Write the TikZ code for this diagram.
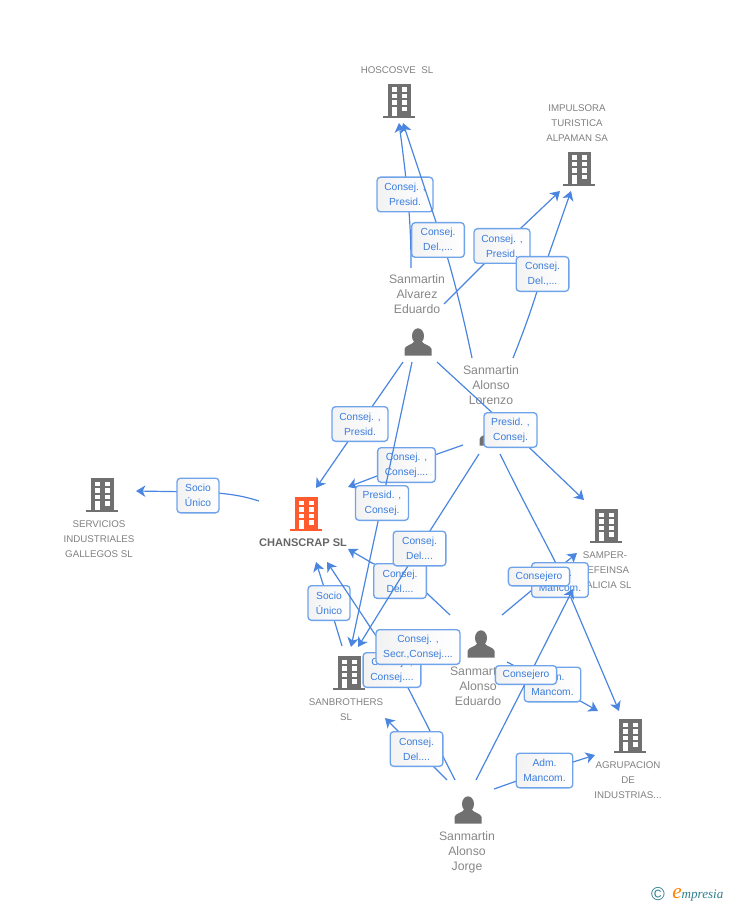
\documentclass[tikz,border=0pt]{standalone}
\usepackage{fontspec}
\setmainfont{Liberation Sans}
\newfontfamily\logofont{Liberation Serif}
\usetikzlibrary{arrows.meta}
\definecolor{linkblue}{HTML}{4A86E0}
\definecolor{boxblue}{HTML}{6FA3EA}
\definecolor{textblue}{HTML}{3B7DDD}
\definecolor{icongrey}{HTML}{707070}
\definecolor{maincolor}{HTML}{FF5B2E}
\definecolor{logoteal}{HTML}{2F7F8F}
\tikzset{
	link/.style={draw=linkblue, line width=0.9pt},
	tip/.style={link, -{Stealth[length=7pt,width=8.5pt,inset=2pt]}},
	rolebox/.style={draw=boxblue, line width=1pt, rounded corners=2.6pt, left color=black!5, right color=white, text=textblue, align=center, font=\fontsize{7.7}{11.25}\selectfont, inner xsep=5.4pt, inner ysep=0pt, minimum height=26pt, minimum width=39.5pt},
	socio/.style={rolebox, minimum width=31.5pt},
	roleline/.style={rolebox, minimum height=14pt},
	company/.style={text=black!50, align=center, font=\fontsize{7.3}{11.25}\selectfont, inner sep=0pt},
	person/.style={text=black!47, align=center, font=\fontsize{9.2}{11.25}\selectfont, inner sep=0pt},
}
\def\companyicon(#1,#2)#3{
	\fill[#3] (#1-16,#2+15) rectangle (#1+16,#2+17);
	\fill[#3] (#1-11.5,#2-17) rectangle (#1+11.5,#2+15);
	\foreach \r in {-13.5,-7,-0.5}{
		\fill[white] (#1-7.5,#2+\r) rectangle +(5,4.5);
		\fill[white] (#1+2.5,#2+\r) rectangle +(5,4.5);
	}
	\fill[white] (#1-7.5,#2+6) rectangle (#1-2.5,#2+15);
	\fill[white] (#1+2.5,#2+6) rectangle (#1+7.5,#2+10.5);
}
\def\personicon(#1,#2){
	\fill[icongrey] (#1,#2-6) ellipse (6 and 7.7);
	\fill[icongrey] (#1-13.5,#2+13.5) -- (#1-13.5,#2+7) .. controls (#1-13,#2+3) and (#1-5,#2+3) .. (#1-3.5,#2-1) -- (#1+3.5,#2-1) .. controls (#1+5,#2+3) and (#1+13,#2+3) .. (#1+13.5,#2+7) -- (#1+13.5,#2+13.5) -- cycle;
}
\begin{document}
\begin{tikzpicture}[x=0.75pt,y=-0.75pt]
	\useasboundingbox (0,0) rectangle (728,905);

	% companies
	\companyicon(399,101){icongrey}
	\companyicon(579,169){icongrey}
	\companyicon(102,495){icongrey}
	\companyicon(306,514){maincolor}
	\companyicon(606,526){icongrey}
	\companyicon(349,673){icongrey}
	\companyicon(630,736){icongrey}
	\node[company] (hoscosve) at (397,70) {HOSCOSVE\ \ SL};
	\node[company] (impulsora) at (577,123) {IMPULSORA\\TURISTICA\\ALPAMAN SA};
	\node[company] (servicios) at (99,539) {SERVICIOS\\INDUSTRIALES\\GALLEGOS SL};
	\node[company, text=black!60, font=\fontsize{8.3}{11.25}\selectfont\bfseries] (chanscrap) at (303,543) {CHANSCRAP SL};
	\node[company] (samper) at (605,570) {SAMPER-\\SEFEINSA\\GALICIA SL};
	\node[company] (sanbrothers) at (346,709.5) {SANBROTHERS\\SL};
	\node[company] (agrupacion) at (628,780) {AGRUPACION\\DE\\INDUSTRIAS...};

	% people
	\personicon(418,342)
	\personicon(493,432)
	\personicon(481,644)
	\personicon(468,810)
	\node[person] (alvarez) at (417,294) {Sanmartin\\Alvarez\\Eduardo};
	\node[person] (lorenzo) at (491,385) {Sanmartin\\Alonso\\Lorenzo};
	\node[person] (eduardo) at (478,686) {Sanmartin\\Alonso\\Eduardo};
	\node[person] (jorge) at (467,852) {Sanmartin\\Alonso\\Jorge};

	% free ends
	\coordinate (hosA) at (399,123);
	\coordinate (hosB) at (403,123);
	\coordinate (impA) at (560,191);
	\coordinate (impB) at (571,191);
	\coordinate (chaA) at (316,488);
	\coordinate (chaB) at (348,487);
	\coordinate (chaC) at (348,549);
	\coordinate (chaD) at (327,562);
	\coordinate (chaE) at (316,562);
	\coordinate (serA) at (136,491);
	\coordinate (sanA) at (351,647);
	\coordinate (sanB) at (358,647);
	\coordinate (sanC) at (385,718);
	\coordinate (samA) at (584,500);
	\coordinate (samB) at (577,553);
	\coordinate (samC) at (573,589);
	\coordinate (agrA) at (619,711);
	\coordinate (agrB) at (598,711);
	\coordinate (agrC) at (595,755);
	\coordinate (fromAlvA) at (411,268);
	\coordinate (fromAlvB) at (444,304);
	\coordinate (fromAlvC) at (403,362);
	\coordinate (fromAlvD) at (412,362);
	\coordinate (fromAlvE) at (437,362);
	\coordinate (fromLorA) at (472,358);
	\coordinate (fromLorB) at (513,358);
	\coordinate (fromLorC) at (463,445);
	\coordinate (fromLorD) at (479,454);
	\coordinate (fromLorE) at (500,454);
	\coordinate (fromEduA) at (450,615);
	\coordinate (fromEduB) at (502,615);
	\coordinate (fromEduC) at (507,662);
	\coordinate (fromJorA) at (447,780);
	\coordinate (fromJorB) at (455,780);
	\coordinate (fromJorC) at (476,780);
	\coordinate (fromJorD) at (494,789);
	\coordinate (fromChaA) at (259,501);
	\coordinate (fromSanA) at (342,646);
	\coordinate (underSanC) at (400,672);
	\coordinate (underChaD) at (390,657);

	% links with their boxes
	\draw[tip] (fromChaA) .. controls (240,495) and (225,493) .. (198,492) -- (serA);
	\node[socio] (roleSocioA) at (198,495.5) {Socio\\Único};

	\draw[tip] (fromAlvA) .. controls (411,235) and (410,205) .. (hosA);
	\node[rolebox] (roleHosA) at (405,194.5) {Consej. ,\\Presid.};
	\draw[tip] (fromLorA) .. controls (462,310) and (450,262) .. (438,228) -- (hosB);
	\node[rolebox] (roleHosB) at (438,240) {Consej.\\Del.,...};

	\draw[tip] (fromAlvB) -- (502,246) -- (impA);
	\node[rolebox] (roleImpA) at (502,246) {Consej. ,\\Presid.};
	\draw[tip] (fromLorB) .. controls (525,328) and (535,300) .. (542,274) -- (impB);
	\node[rolebox] (roleImpB) at (542.5,274) {Consej.\\Del.,...};

	\draw[tip] (fromAlvC) -- (360,424) -- (chaA);
	\node[rolebox] (roleChaA) at (360,424) {Consej. ,\\Presid.};
	\draw[tip] (fromLorC) -- (406,465) -- (chaB);
	\node[rolebox] (roleChaB) at (406.5,465) {Consej. ,\\Consej....};
	\draw[tip] (fromAlvD) -- (382,503) -- (sanA);
	\node[rolebox] (roleSanA) at (382,503) {Presid. ,\\Consej.};

	\draw[tip] (fromAlvE) -- (511,430) -- (samA);
	\node[rolebox] (roleSamA) at (510.5,430) {Presid. ,\\Consej.};

	\draw[tip] (fromEduA) -- (415,582) -- (372,563) -- (chaC);
	\node[rolebox] (roleChaC) at (400,581) {Consej.\\Del....};
	\draw[tip] (fromLorD) -- (419,548) -- (sanB);
	\node[rolebox] (roleSanB) at (419.5,548.5) {Consej.\\Del....};

	\draw[tip] (fromSanA) -- (329,603) -- (chaE);
	\node[socio] (roleSocioB) at (329,603) {Socio\\Único};

	\draw[link] (fromJorB) -- (underSanC);
	\node[rolebox] (roleSanC) at (392,670) {Consej. ,\\Consej....};
	\draw[tip] (underChaD) -- (chaD);
	\node[rolebox] (roleChaD) at (418,647) {Consej. ,\\Secr.,Consej....};
	\draw[tip] (fromJorA) -- (416,749) -- (sanC);
	\node[rolebox] (roleSanD) at (416.5,749) {Consej.\\Del....};

	\draw[tip] (fromJorD) -- (545,771) -- (agrC);
	\node[rolebox] (roleAgrC) at (544.5,770.5) {Adm.\\Mancom.};

	\draw[tip] (fromLorE) .. controls (530,515) and (550,550) .. (560,572) -- (agrA);
	\draw[tip] (fromEduB) -- (538,585) -- (samB);
	\node[rolebox] (roleAgrA) at (560,580) {Adm.\\Mancom.};
	\node[roleline] (roleSamB) at (539,576.5) {Consejero};

	\draw[tip] (fromEduC) -- (552,685) -- (agrB);
	\node[rolebox] (roleAgrB) at (552.5,684.5) {Adm.\\Mancom.};
	\draw[tip] (fromJorC) -- (526,682) -- (samC);
	\node[roleline] (roleSamC) at (526,675) {Consejero};

	% logo
	\node[text=logoteal, font=\fontsize{14}{14}\selectfont, inner sep=0pt] (logoC) at (658,894.5) {©};
	\node[anchor=base west, inner sep=0pt, font=\fontsize{9.8}{10}\selectfont\logofont\itshape, text=logoteal] (logoName) at (672,898) {\textcolor{orange}{\fontsize{16}{16}\selectfont e}mpresia};
\end{tikzpicture}
\end{document}
